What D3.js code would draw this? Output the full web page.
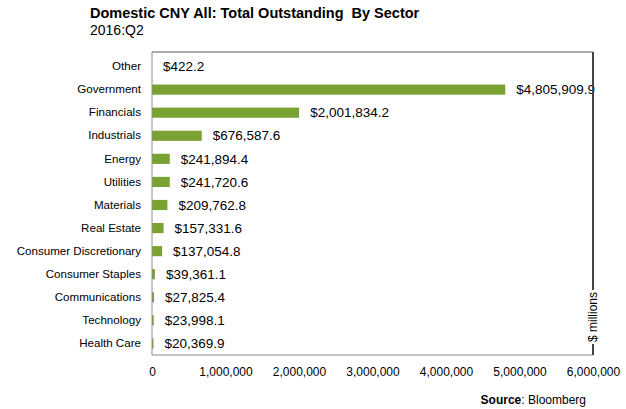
<!DOCTYPE html>
<html>
<head>
<meta charset="utf-8">
<script src="https://cdn.jsdelivr.net/npm/d3@7"></script>
<style>
  html, body { margin: 0; padding: 0; background: #fff; }
  svg { display: block; font-family: "Liberation Sans", Arial, sans-serif; }
</style>
</head>
<body>
<svg id="chart" width="626" height="409"></svg>
<script>
// Sector totals, $ millions
const sectors = [
  "Other", "Government", "Financials", "Industrials", "Energy", "Utilities",
  "Materials", "Real Estate", "Consumer Discretionary", "Consumer Staples",
  "Communications", "Technology", "Health Care"
];
const outstanding = [
  422.2, 4805909.9, 2001834.2, 676587.6, 241894.4, 241720.6,
  209762.8, 157331.6, 137054.8, 39361.1, 27825.4, 23998.1, 20369.9
];
const xTicks = [0, 1000000, 2000000, 3000000, 4000000, 5000000, 6000000];

const svg = d3.select("#chart");
const plotLeft = 152, plotRight = 593, plotTop = 52, plotBottom = 355;

const x = d3.scaleLinear().domain([0, 6000000]).range([plotLeft, plotRight]);
const y = d3.scaleBand().domain(sectors).range([plotTop + 3, plotBottom])
  .paddingInner(0.56).paddingOuter(0.28);

const rows = sectors.map((s, i) => ({ sector: s, value: outstanding[i] }));

// Title
svg.append("text").attr("x", 90).attr("y", 18)
  .style("white-space", "pre")
  .attr("font-size", 14.5).attr("font-weight", "bold").attr("fill", "#000")
  .text("Domestic CNY All: Total Outstanding  By Sector");
svg.append("text").attr("x", 90).attr("y", 35)
  .attr("font-size", 14).attr("fill", "#000")
  .text("2016:Q2");

// Bars
svg.append("g").selectAll("rect").data(rows).join("rect")
  .attr("x", x(0))
  .attr("y", d => y(d.sector))
  .attr("width", d => Math.max(0, x(d.value) - x(0)))
  .attr("height", y.bandwidth())
  .attr("fill", "#7aa232");

// Value labels
const fmt = d3.format(",.1f");
svg.append("g").selectAll("text").data(rows).join("text")
  .attr("x", d => x(d.value) + 11)
  .attr("y", d => y(d.sector) + y.bandwidth() / 2)
  .attr("dy", "0.35em")
  .attr("font-size", 13.5).attr("fill", "#000")
  .text(d => "$" + fmt(d.value));

// Category axis
const yAxis = svg.append("g").attr("transform", `translate(${plotLeft},0)`)
  .call(d3.axisLeft(y).tickSize(0).tickPadding(11));
yAxis.select(".domain").remove();
yAxis.selectAll("text").attr("font-size", 11.6).attr("fill", "#000")
  .attr("font-family", "Liberation Sans, Arial, sans-serif");

// Value axis
const xAxis = svg.append("g").attr("transform", `translate(0,${plotBottom})`)
  .call(d3.axisBottom(x).tickValues(xTicks).tickSize(0).tickPadding(12)
    .tickFormat(d3.format(",")));
xAxis.select(".domain").remove();
xAxis.selectAll("text").attr("font-size", 12).attr("fill", "#000")
  .attr("font-family", "Liberation Sans, Arial, sans-serif");

// Plot frame
svg.append("line").attr("x1", plotLeft).attr("x2", plotLeft).attr("y1", plotTop).attr("y2", plotBottom)
  .attr("stroke", "#8c8c8c").attr("stroke-width", 1);
svg.append("line").attr("x1", plotLeft).attr("x2", plotRight).attr("y1", plotTop).attr("y2", plotTop)
  .attr("stroke", "#555").attr("stroke-width", 1);
svg.append("line").attr("x1", plotLeft).attr("x2", plotRight).attr("y1", plotBottom).attr("y2", plotBottom)
  .attr("stroke", "#8c8c8c").attr("stroke-width", 1);
svg.append("line").attr("x1", plotRight).attr("x2", plotRight).attr("y1", plotTop).attr("y2", plotBottom)
  .attr("stroke", "#444").attr("stroke-width", 2);

// Unit label sitting on the right edge
const unitY = 317;
svg.append("rect").attr("x", plotRight - 8).attr("y", unitY - 27).attr("width", 16).attr("height", 54)
  .attr("fill", "#fff");
svg.append("text")
  .attr("transform", `translate(${plotRight + 4},${unitY}) rotate(-90)`)
  .attr("text-anchor", "middle").attr("font-size", 12).attr("fill", "#000")
  .text("$ millions");

// Source note
const src = svg.append("text").attr("x", 586).attr("y", 404)
  .attr("text-anchor", "end").attr("font-size", 12).attr("fill", "#000");
src.append("tspan").attr("font-weight", "bold").text("Source");
src.append("tspan").text(": Bloomberg");
</script>
</body>
</html>
